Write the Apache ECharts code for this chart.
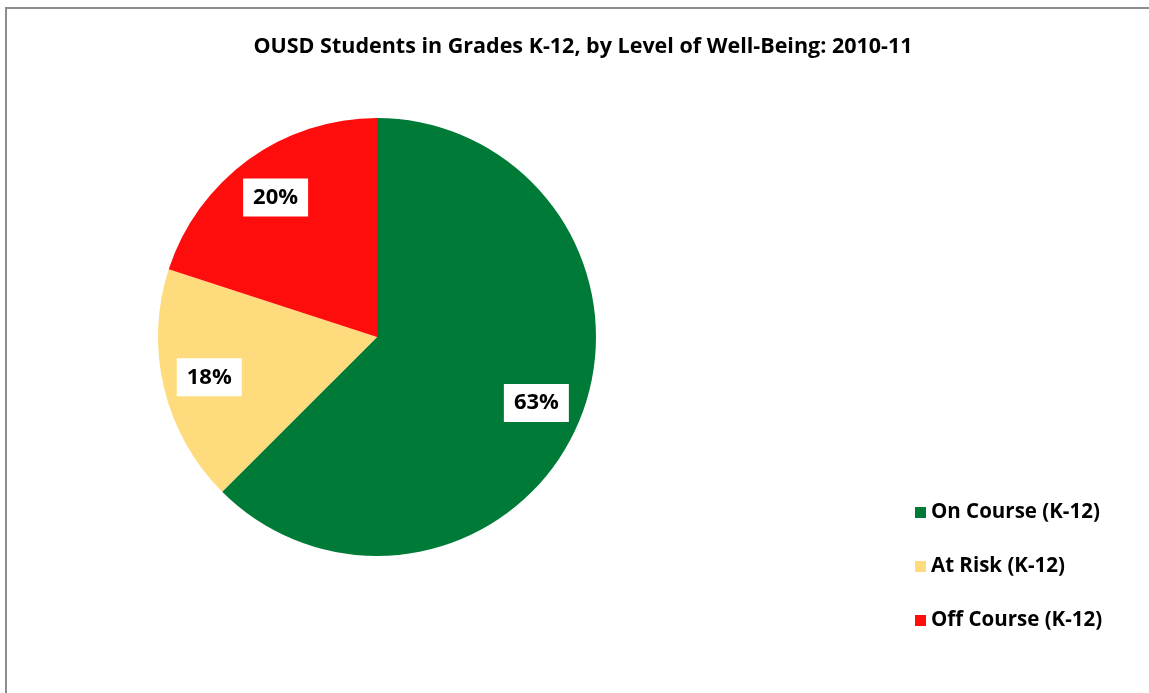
<!DOCTYPE html>
<html>
<head>
<meta charset="utf-8">
<script src="https://cdn.jsdelivr.net/npm/echarts@6/dist/echarts.min.js"></script>
<style>
  html, body { margin: 0; padding: 0; background: #fff; }
  #chart { width: 1149px; height: 693px; }
</style>
</head>
<body>
<div id="chart"></div>
<script>
// data
const categories = ['On Course (K-12)', 'At Risk (K-12)', 'Off Course (K-12)'];
const shares = [62.5, 17.5, 20];
const colors = ['#007B37', '#FEDC7D', '#FF0D0D'];

const titleText = 'OUSD Students in Grades K-12, by Level of Well-Being: 2010-11';

const pieData = categories.map((name, i) => ({
  name: name,
  value: shares[i],
  itemStyle: { color: colors[i] }
}));

const myChart = echarts.init(document.getElementById('chart'));

myChart.setOption({
  animation: false,
  // chart frame (runs off the right and bottom edge)
  graphic: [{
    type: 'rect',
    shape: { x: 6, y: 8, width: 1300, height: 900 },
    style: { fill: 'none', stroke: '#8c8c8c', lineWidth: 2 },
    silent: true
  }],
  title: {
    text: titleText,
    left: 578,
    textAlign: 'center',
    top: 31,
    textStyle: {
      fontFamily: 'Open Sans',
      fontWeight: 'bold',
      fontSize: 21.5,
      color: '#000'
    }
  },
  legend: {
    orient: 'vertical',
    left: 910,
    top: 497,
    itemWidth: 11,
    itemHeight: 11,
    itemGap: 33,
    icon: 'rect',
    data: categories,
    textStyle: {
      fontFamily: 'Open Sans',
      fontWeight: 'bold',
      fontSize: 20.5,
      color: '#000'
    }
  },
  series: [
    {
      type: 'pie',
      center: [377, 337],
      radius: [0, 219],
      startAngle: 90,
      clockwise: true,
      silent: true,
      label: { show: false },
      labelLine: { show: false },
      data: pieData
    },
    {
      // transparent ring, only used to place the labels at ~0.78 r
      type: 'pie',
      center: [377, 337],
      radius: [120, 219],
      startAngle: 90,
      clockwise: true,
      silent: true,
      itemStyle: { color: 'transparent' },
      label: {
        show: true,
        position: 'inside',
        formatter: p => Math.round(p.value) + '%',
        fontFamily: 'Open Sans',
        fontWeight: 'bold',
        fontSize: 22,
        color: '#000',
        backgroundColor: '#fff',
        padding: [8, 10, 8, 10]
      },
      labelLine: { show: false },
      data: shares.map((v, i) => ({ name: categories[i], value: v }))
    }
  ]
});
</script>
</body>
</html>
